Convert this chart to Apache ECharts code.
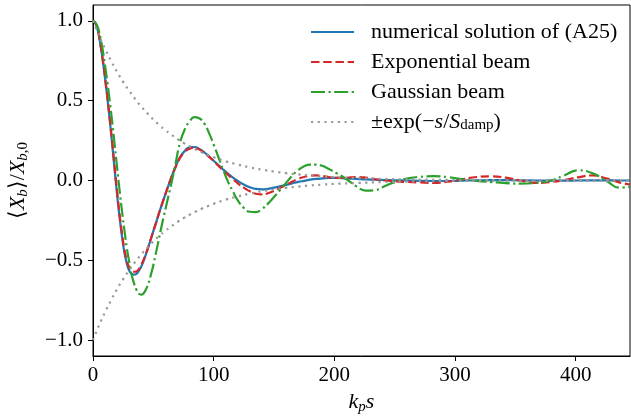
<!DOCTYPE html>
<html>
<head>
<meta charset="utf-8">
<script src="https://cdn.jsdelivr.net/npm/echarts@6/dist/echarts.min.js"></script>
<style>html,body{margin:0;padding:0;background:#fff;}#c{width:631px;height:420px;}</style>
</head>
<body>
<div id="c"></div>
<script>
const sGrid = [0,2,4,6,8,10,12,14,16,18,
  20,22,24,26,28,30,32,34,36,38,
  40,44,48,52,56,60,64,68,72,76,
  80,84,88,92,96,100,104,108,112,116,
  120,125,130,135,140,145,150,155,160,165,
  170,175,180,185,190,196,202,210,218,226,
  234,242,250,260,270,282,294,306,318,330,
  342,354,366,378,390,402,414,426,436,445];
const numerical = [1.0,0.985,0.94,0.86,0.76,0.64,0.51,0.37,0.22,0.06,
  -0.09,-0.23,-0.35,-0.45,-0.52,-0.565,-0.585,-0.59,-0.585,-0.565,
  -0.54,-0.46,-0.365,-0.27,-0.175,-0.085,0.0,0.08,0.145,0.185,
  0.208,0.21,0.198,0.178,0.152,0.124,0.095,0.068,0.042,0.018,
  -0.003,-0.025,-0.042,-0.053,-0.056,-0.052,-0.045,-0.036,-0.027,-0.018,
  -0.009,-0.002,0.005,0.01,0.013,0.016,0.016,0.013,0.01,0.007,
  0.005,0.003,0.001,0.0,-0.002,-0.003,-0.003,-0.001,0.001,0.002,
  0.002,0.001,0.0,-0.001,-0.001,0.0,0.001,0.001,0.0,0.0];
const exponential = [1.0,0.985,0.94,0.86,0.76,0.645,0.52,0.38,0.235,0.08,
  -0.07,-0.21,-0.33,-0.43,-0.5,-0.545,-0.565,-0.572,-0.57,-0.555,
  -0.53,-0.455,-0.365,-0.27,-0.175,-0.085,0.0,0.075,0.14,0.18,
  0.2,0.205,0.195,0.175,0.15,0.122,0.092,0.063,0.035,0.008,
  -0.018,-0.045,-0.068,-0.083,-0.087,-0.08,-0.065,-0.047,-0.027,-0.008,
  0.01,0.022,0.03,0.032,0.028,0.02,0.016,0.018,0.022,0.018,
  0.008,0.0,-0.005,-0.009,-0.012,-0.015,-0.008,0.008,0.022,0.026,
  0.018,0.0,-0.015,-0.01,0.002,0.02,0.032,0.012,-0.012,-0.025];
const gaussian = [1.0,0.99,0.96,0.9,0.82,0.72,0.61,0.49,0.36,0.22,
  0.08,-0.06,-0.19,-0.31,-0.42,-0.51,-0.59,-0.645,-0.685,-0.71,
  -0.715,-0.68,-0.59,-0.46,-0.315,-0.18,-0.05,0.09,0.235,0.32,
  0.37,0.397,0.39,0.36,0.3,0.225,0.145,0.065,-0.01,-0.07,
  -0.125,-0.172,-0.196,-0.198,-0.178,-0.145,-0.104,-0.06,-0.015,0.03,
  0.065,0.09,0.1,0.1,0.092,0.07,0.045,0.008,-0.035,-0.063,
  -0.06,-0.035,-0.01,0.012,0.022,0.027,0.021,0.009,-0.003,-0.01,
  -0.016,-0.02,-0.016,-0.003,0.03,0.064,0.045,-0.005,-0.045,-0.04];
const sEnv = [0,5,10,15,20,25,30,35,40,45,50,55,60,65,70,75,80,85,90,95,100,
  110,120,130,140,150,160,170,180,190,200,
  220,240,260,280,300,340,380,445];
const envUpper = [1.0,0.908,0.825,0.75,0.68,0.618,0.562,0.51,0.463,0.421,0.382,0.347,0.315,0.287,0.26,0.236,0.215,0.195,0.177,0.161,0.146,
  0.12,0.1,0.082,0.068,0.056,0.046,0.038,0.031,0.026,0.021,
  0.015,0.01,0.007,0.005,0.003,0.0015,0.0007,0.0002];
const envLower = [-1.0,-0.908,-0.825,-0.75,-0.68,-0.618,-0.562,-0.51,-0.463,-0.421,-0.382,-0.347,-0.315,-0.287,-0.26,-0.236,-0.215,-0.195,-0.177,-0.161,-0.146,
  -0.12,-0.1,-0.082,-0.068,-0.056,-0.046,-0.038,-0.031,-0.026,-0.021,
  -0.015,-0.01,-0.007,-0.005,-0.003,-0.0015,-0.0007,-0.0002];
const xTicks = [0,100,200,300,400];
const yTicks = [-1.0,-0.5,0.0,0.5,1.0];
const seriesNames = ['numerical solution of (A25)','Exponential beam','Gaussian beam','envelope'];

const FONT = 'Liberation Serif';
const pairs = (xs, ys) => xs.map((x, i) => [x, ys[i]]);

const chart = echarts.init(document.getElementById('c'), null, {renderer: 'canvas'});
const lineBase = {type: 'line', symbol: 'none', smooth: true, animation: false};
chart.setOption({
  backgroundColor: '#fff',
  animation: false,
  grid: {left: 93, right: 1, top: 5, bottom: 64, show: true, borderColor: '#000', borderWidth: 1, outerBoundsMode: 'none'},
  legend: {
    orient: 'vertical', left: 310, top: 21, padding: 0,
    itemWidth: 43, itemHeight: 14, itemGap: 8,
    data: seriesNames,
    itemStyle: {opacity: 0, borderWidth: 0},
    formatter: function (name) {
      if (name === 'envelope') return '±exp(−{i|s}/{i|S}{sub|damp})';
      return name;
    },
    textStyle: {
      fontFamily: FONT, fontSize: 22, color: '#000', lineHeight: 22, padding: [0, 0, 0, 12],
      rich: {
        i: {fontFamily: FONT, fontStyle: 'italic', fontSize: 22, lineHeight: 22},
        sub: {fontFamily: FONT, fontSize: 15, lineHeight: 12, verticalAlign: 'bottom'}
      }
    }
  },
  xAxis: {
    type: 'value', min: 0, max: 445,
    name: '{i|k}{s|p}{i|s}', nameLocation: 'middle', nameGap: 27,
    nameTextStyle: {
      color: '#000', fontFamily: FONT, fontSize: 22,
      rich: {
        i: {fontFamily: FONT, fontStyle: 'italic', fontSize: 22, lineHeight: 26},
        s: {fontFamily: FONT, fontStyle: 'italic', fontSize: 15, lineHeight: 12, verticalAlign: 'bottom'}
      }
    },
    axisLine: {show: true, onZero: false, lineStyle: {color: '#000', width: 1}},
    axisTick: {show: true, length: 5, lineStyle: {color: '#000', width: 1}, customValues: xTicks},
    axisLabel: {color: '#000', fontFamily: FONT, fontSize: 21, margin: 9, customValues: xTicks,
      formatter: v => String(v)},
    splitLine: {show: false}
  },
  yAxis: {
    type: 'value', min: -1.1, max: 1.1,
    name: '⟨{i|X}{s|b}⟩/{i|X}{s|b}{r|,0}', nameLocation: 'middle', nameGap: 62, nameRotate: 90,
    nameTextStyle: {
      color: '#000', fontFamily: FONT, fontSize: 22, lineHeight: 26,
      rich: {
        i: {fontFamily: FONT, fontStyle: 'italic', fontSize: 22, lineHeight: 26},
        s: {fontFamily: FONT, fontStyle: 'italic', fontSize: 15, lineHeight: 12, verticalAlign: 'bottom'},
        r: {fontFamily: FONT, fontSize: 15, lineHeight: 12, verticalAlign: 'bottom'}
      }
    },
    axisLine: {show: true, onZero: false, lineStyle: {color: '#000', width: 1}},
    axisTick: {show: true, length: 5, lineStyle: {color: '#000', width: 1}, customValues: yTicks},
    axisLabel: {color: '#000', fontFamily: FONT, fontSize: 21, margin: 10, customValues: yTicks,
      formatter: v => v.toFixed(1).replace('-', '−')},
    splitLine: {show: false}
  },
  series: [
    Object.assign({}, lineBase, {name: seriesNames[0], data: pairs(sGrid, numerical), z: 2,
      lineStyle: {color: '#1f77b4', width: 2.2, type: 'solid'}, itemStyle: {color: '#1f77b4'}}),
    Object.assign({}, lineBase, {name: seriesNames[1], data: pairs(sGrid, exponential), z: 3,
      lineStyle: {color: '#d62728', width: 2.2, type: [8.5, 3.7]}, itemStyle: {color: '#d62728'}}),
    Object.assign({}, lineBase, {name: seriesNames[2], data: pairs(sGrid, gaussian), z: 4,
      lineStyle: {color: '#2ca02c', width: 2.2, type: [14, 3.5, 2.2, 3.5]}, itemStyle: {color: '#2ca02c'}}),
    Object.assign({}, lineBase, {name: seriesNames[3], data: pairs(sEnv, envUpper), z: 5,
      lineStyle: {color: '#999999', width: 2.2, type: [2.2, 4.5]}, itemStyle: {color: '#999999'}}),
    Object.assign({}, lineBase, {name: seriesNames[3], data: pairs(sEnv, envLower), z: 5,
      lineStyle: {color: '#999999', width: 2.2, type: [2.2, 4.5]}, itemStyle: {color: '#999999'}})
  ]
});
</script>
</body>
</html>
